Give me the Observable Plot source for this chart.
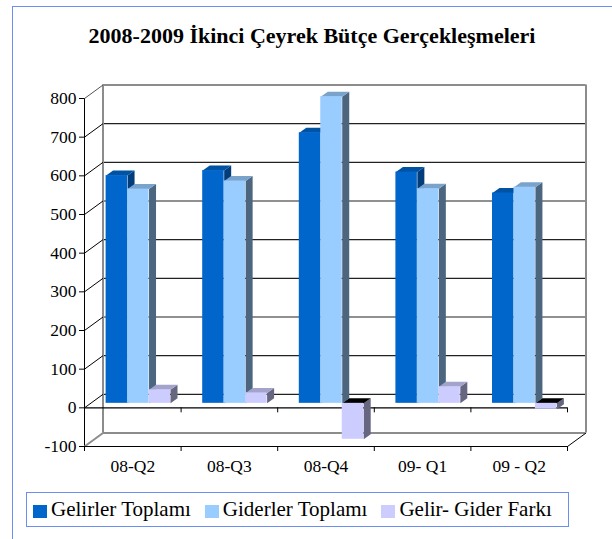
<!DOCTYPE html>
<html><head><meta charset="utf-8">
<script src="https://cdn.jsdelivr.net/npm/d3@7"></script>
<script src="https://cdn.jsdelivr.net/npm/@observablehq/plot@0.6"></script>
<style>
body{margin:0;background:#fff;}
#wrap{position:relative;width:612px;height:539px;overflow:hidden;background:#fff;font-family:'Liberation Serif','Times New Roman',serif;color:#000;}
#frame{position:absolute;left:12px;top:6px;width:700px;height:700px;border-left:1.5px solid #6b8ef2;border-top:1.5px solid #6b8ef2;z-index:3;pointer-events:none;}
#title{position:absolute;left:12px;width:600px;top:23px;line-height:26px;text-align:center;font-weight:bold;font-size:22px;}
#chart{position:absolute;left:0;top:60px;}
#legend{position:absolute;left:26px;top:492px;width:543px;height:35px;box-sizing:border-box;border:1.5px solid #6b8ef2;display:flex;align-items:center;padding-left:6px;font-size:21px;white-space:nowrap;}
.item{display:flex;align-items:center;margin-right:14px;}
.sw{width:14px;height:13px;margin-right:4px;margin-top:3px;}
</style></head>
<body>
<div id="wrap">
  <div id="frame"></div>
  <div id="title">2008-2009 İkinci Çeyrek Bütçe Gerçekleşmeleri</div>
  <div id="chart"></div>
  <div id="legend"></div>
</div>
<script>
// ---- data ----
const categories = ["08-Q2", "08-Q3", "08-Q4", "09- Q1", "09 - Q2"];
const gelirler = [589, 602, 700, 598, 544];
const giderler = [554, 575, 793, 555, 559];
const fark = [35, 27, -93, 43, -15];
const seriesNames = ["Gelirler Toplamı", "Giderler Toplamı", "Gelir- Gider Farkı"];
const yTicks = [-100, 0, 100, 200, 300, 400, 500, 600, 700, 800];

// ---- styles ----
const palette = [
  {front: "#0066CC", top: "#0052A3", side: "#003D7A"},
  {front: "#99CCFF", top: "#7AA3CC", side: "#4C6680"},
  {front: "#CCCCFF", top: "#A3A3CC", side: "#666680"}
];
const W = 612, H = 425, ML = 84, MR = 45, MT = 38, MB = 39;
const yMin = yTicks[0], yMax = yTicks[yTicks.length - 1];
const pxX = (W - ML - MR) / categories.length;
const pxY = (H - MT - MB) / (yMax - yMin);
const wallDX = 18.5, wallDY = -13.5;   // back wall offset (px)
const barDX = 5.5, barDY = -4.5;       // bar front face offset (px)
const depthDX = 7, depthDY = -5;       // bar depth (px)
const wallX = wallDX / pxX, wallY = -wallDY / pxY;
const bdX = depthDX / pxX, bdY = -depthDY / pxY;
const tickLen = 5 / pxY;
const barW = 1 / 4.5;

const series = [gelirler, giderler, fark];
const bars = [];
series.forEach((vals, k) => vals.forEach((v, i) => {
  const x1 = i + 0.5 - 1.5 * barW + k * barW;
  bars.push({k, i, v, x1, x2: x1 + barW, id: k + "-" + i});
}));
const sidePts = [], topPts = [];
for (const b of bars) {
  sidePts.push({id: b.id, k: b.k, x: b.x2, y: b.v},
               {id: b.id, k: b.k, x: b.x2 + bdX, y: b.v + bdY},
               {id: b.id, k: b.k, x: b.x2 + bdX, y: bdY},
               {id: b.id, k: b.k, x: b.x2, y: 0});
  const t = Math.max(b.v, 0), neg = b.v < 0;
  topPts.push({id: b.id, k: b.k, neg, x: b.x1, y: t},
              {id: b.id, k: b.k, neg, x: b.x1 + bdX, y: t + bdY},
              {id: b.id, k: b.k, neg, x: b.x2 + bdX, y: t + bdY},
              {id: b.id, k: b.k, neg, x: b.x2, y: t});
}
const bounds = d3.range(0, categories.length + 1);
const grid = yTicks.filter(v => v >= 0 && v < yMax);

const barMarks = [];
series.forEach((_, k) => {
  const c = palette[k];
  barMarks.push(
    Plot.line(sidePts.filter(d => d.k === k), {x: "x", y: "y", z: "id", curve: "linear-closed", fill: c.side, stroke: "none", dx: barDX, dy: barDY}),
    Plot.line(topPts.filter(d => d.k === k && !d.neg), {x: "x", y: "y", z: "id", curve: "linear-closed", fill: c.top, stroke: "none", dx: barDX, dy: barDY}),
    Plot.line(topPts.filter(d => d.k === k && d.neg), {x: "x", y: "y", z: "id", curve: "linear-closed", fill: "#000", stroke: "none", dx: barDX, dy: barDY}),
    Plot.rect(bars.filter(d => d.k === k), {x1: "x1", x2: "x2", y1: 0, y2: "v", fill: c.front, dx: barDX, dy: barDY})
  );
});

const chart = Plot.plot({
  width: W, height: H,
  marginLeft: ML, marginRight: MR, marginTop: MT, marginBottom: MB,
  style: {fontFamily: "'Liberation Serif','Times New Roman',serif", fontSize: "17.5px", color: "#000", background: "transparent", overflow: "visible"},
  x: {domain: [0, categories.length], axis: null},
  y: {domain: [yMin, yMax], ticks: yTicks, tickFormat: d => String(d), tickSize: 5, tickPadding: 3, line: true, label: null},
  marks: [
    // back wall
    Plot.ruleY(grid, {stroke: "#222", strokeWidth: 1.1, dx: wallDX, dy: wallDY}),
    Plot.ruleY([yMax, yMin], {stroke: "#8c8c8c", strokeWidth: 2, dx: wallDX, dy: wallDY}),
    Plot.ruleX([0, categories.length], {y1: yMin, y2: yMax, stroke: "#8c8c8c", strokeWidth: 2, dx: wallDX, dy: wallDY}),
    // diagonals
    Plot.link(yTicks.filter(v => v > yMin), {x1: 0, x2: wallX, y1: d => d, y2: d => d + wallY, stroke: d => d === yMax ? "#555" : "#000", strokeWidth: 1}),
    Plot.link([yMin], {x1: 0, x2: wallX, y1: d => d, y2: d => d + wallY, stroke: "#8c8c8c", strokeWidth: 2}),
    Plot.link([yMin], {x1: categories.length, x2: categories.length + wallX, y1: d => d, y2: d => d + wallY, stroke: "#000", strokeWidth: 1}),
    // front lines
    Plot.ruleY([yMin], {stroke: "#000", strokeWidth: 1.2}),
    Plot.ruleY([0], {stroke: "#000", strokeWidth: 1.2}),
    Plot.ruleX(bounds, {y1: 0, y2: -tickLen, stroke: "#000"}),
    Plot.ruleX(bounds, {y1: yMin, y2: yMin - tickLen, stroke: "#000"}),
    // bars
    ...barMarks,
    // category labels
    Plot.text(categories, {x: (d, i) => i + 0.5, y: yMin, dy: 20, text: d => d, fill: "#000"})
  ]
});
document.getElementById("chart").appendChild(chart);

// legend
const lg = document.getElementById("legend");
seriesNames.forEach((n, k) => {
  const it = document.createElement("div");
  it.className = "item";
  it.innerHTML = `<div class="sw" style="background:${palette[k].front}"></div><span>${n}</span>`;
  lg.appendChild(it);
});
</script>
</body></html>
